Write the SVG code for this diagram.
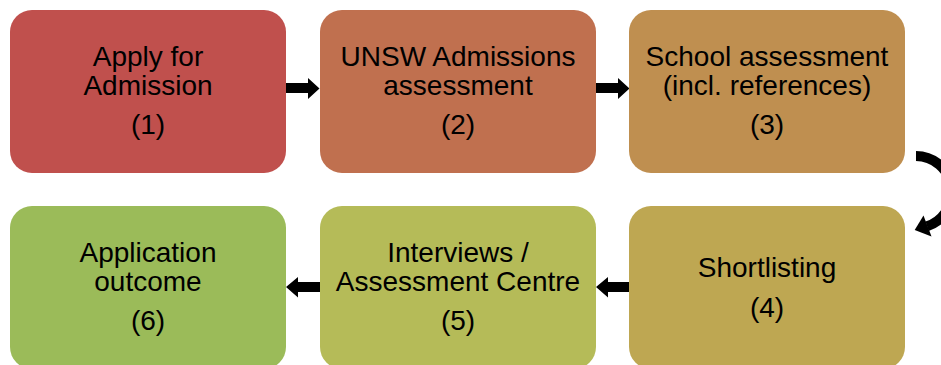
<svg xmlns="http://www.w3.org/2000/svg" width="941" height="365" viewBox="0 0 941 365">
<style>
.box{stroke:none}
.t{font-family:"Liberation Sans",Arial,sans-serif;font-size:28px;fill:#000;text-anchor:middle}
.arr{fill:#000}
</style>
<rect width="941" height="365" fill="#fff"/>
<g id="connectors">
<polygon class="arr" points="286,83 308,83 308,78 319.5,88.5 308,99 308,93 286,93"/>
<polygon class="arr" points="596,83 618,83 618,78 629.5,88.5 618,99 618,93 596,93"/>
<polygon class="arr" points="629,282 608,282 608,277 596,287 608,297.5 608,292 629,292"/>
<polygon class="arr" points="320,282 298,282 298,277 286,287 298,297.5 298,292 320,292"/>
<path d="M916,156 A36,36 0 0 1 927.1,226.2" fill="none" stroke="#000" stroke-width="10"/>
<polygon class="arr" points="931.5,236.5 923.5,215.5 914.7,230"/>
</g>
<g id="node1">
<rect class="box" x="10" y="10" width="276" height="163" rx="22" fill="#C0504D"/>
<text class="t" x="148" y="66">Apply for</text>
<text class="t" x="148" y="95">Admission</text>
<text class="t" x="148" y="134">(1)</text>
</g>
<g id="node2">
<rect class="box" x="320" y="10" width="276" height="163" rx="22" fill="#C0704F"/>
<text class="t" x="458" y="66">UNSW Admissions</text>
<text class="t" x="458" y="95">assessment</text>
<text class="t" x="458" y="134">(2)</text>
</g>
<g id="node3">
<rect class="box" x="629" y="10" width="276" height="163" rx="22" fill="#BF8F50"/>
<text class="t" x="767" y="66">School assessment</text>
<text class="t" x="767" y="95">(incl. references)</text>
<text class="t" x="767" y="134">(3)</text>
</g>
<g id="node4">
<rect class="box" x="629" y="206" width="276" height="163" rx="22" fill="#BEA752"/>
<text class="t" x="767" y="277">Shortlisting</text>
<text class="t" x="767" y="317">(4)</text>
</g>
<g id="node5">
<rect class="box" x="320" y="206" width="276" height="163" rx="22" fill="#B5BB58"/>
<text class="t" x="458" y="262">Interviews /</text>
<text class="t" x="458" y="291">Assessment Centre</text>
<text class="t" x="458" y="330">(5)</text>
</g>
<g id="node6">
<rect class="box" x="10" y="206" width="276" height="163" rx="22" fill="#9BBB59"/>
<text class="t" x="148" y="262">Application</text>
<text class="t" x="148" y="291">outcome</text>
<text class="t" x="148" y="330">(6)</text>
</g>
</svg>
